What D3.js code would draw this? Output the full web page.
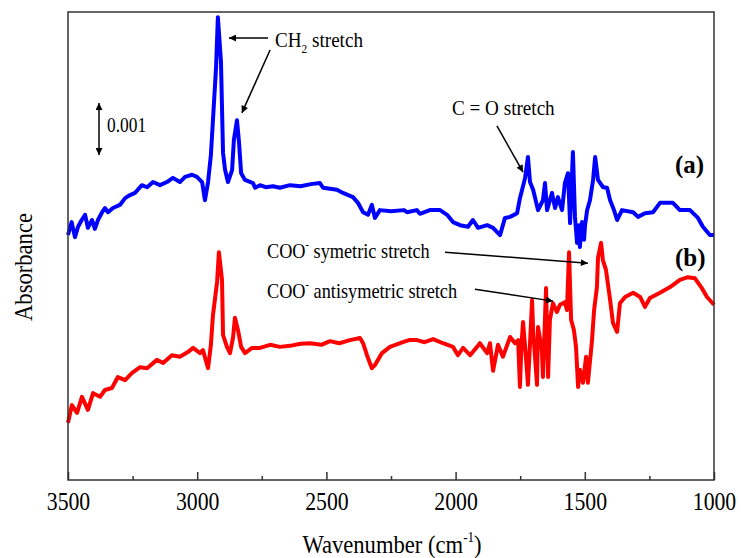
<!DOCTYPE html>
<html>
<head>
<meta charset="utf-8">
<script src="https://cdn.jsdelivr.net/npm/d3@7"></script>
<style>
  body { margin: 0; background: #fff; }
  svg { display: block; }
  text { font-family: "Liberation Serif", "Times New Roman", serif; fill: #000; }
</style>
</head>
<body>
<svg id="chart" width="741" height="558"></svg>
<script>
// spectrum (a), blue: wavenumber (cm-1) and absorbance (x 0.001, arbitrary offset)
const blueWn = [3500,3486,3473,3461,3447,3434,3423,3407,3396,3384,
  3368,3357,3345,3326,3299,3279,3260,3241,3214,3194,
  3171,3144,3117,3094,3067,3047,3020,3001,2981,2970,
  2958,2947,2939,2927,2920,2908,2900,2892,2881,2865,
  2858,2846,2838,2830,2815,2784,2776,2757,2735,2707,
  2680,2641,2600,2560,2525,2513,2459,2436,2397,2378,
  2358,2339,2324,2312,2293,2250,2200,2188,2150,2138,
  2100,2060,2033,2010,1983,1952,1933,1913,1878,1855,
  1828,1809,1789,1762,1751,1731,1720,1712,1700,1681,
  1662,1654,1646,1627,1615,1604,1588,1577,1565,1557,
  1546,1538,1530,1523,1519,1511,1503,1499,1491,1480,
  1468,1460,1449,1429,1414,1402,1387,1375,1356,1313,
  1294,1267,1236,1209,1159,1132,1093,1062,1043,1016,
  1000];
const blueAbs = [4.71,4.96,4.67,4.87,5.00,5.10,4.85,5.00,4.83,5.00,
  5.15,5.23,5.15,5.23,5.29,5.42,5.48,5.52,5.67,5.63,
  5.73,5.67,5.73,5.81,5.73,5.83,5.87,5.83,5.73,5.38,
  5.73,6.25,6.92,7.94,8.90,8.04,6.29,5.96,5.73,5.96,
  6.54,6.92,6.48,5.90,5.77,5.71,5.62,5.67,5.63,5.65,
  5.62,5.67,5.65,5.69,5.71,5.62,5.58,5.52,5.44,5.33,
  5.15,5.10,5.29,5.04,5.19,5.17,5.19,5.15,5.19,5.12,
  5.19,5.19,5.10,4.96,4.90,4.87,5.00,4.85,4.90,4.85,
  4.71,5.04,5.06,5.13,5.42,5.81,6.21,5.73,5.58,5.19,
  5.38,5.71,5.19,5.52,5.23,5.44,5.19,5.71,5.90,4.94,
  6.31,5.06,4.56,4.90,4.48,4.96,4.62,4.90,5.19,5.38,
  5.77,6.21,5.77,5.63,5.62,5.38,5.19,5.00,5.19,5.15,
  5.06,5.13,5.15,5.33,5.33,5.19,5.19,5.04,4.87,4.71,
  4.71];

// spectrum (b), red
const redWn = [3500,3485,3465,3446,3423,3403,3376,3357,3330,3307,
  3279,3252,3221,3194,3156,3132,3098,3067,3036,3016,
  2989,2978,2958,2947,2939,2923,2916,2904,2900,2885,
  2873,2861,2854,2842,2830,2815,2788,2757,2718,2680,
  2641,2600,2563,2520,2486,2450,2409,2370,2358,2343,
  2324,2312,2285,2254,2204,2180,2149,2120,2087,2049,
  2010,1991,1971,1944,1917,1906,1878,1867,1855,1836,
  1817,1789,1770,1758,1751,1745,1739,1731,1724,1720,
  1712,1704,1700,1685,1681,1666,1662,1650,1642,1635,
  1623,1608,1596,1577,1569,1561,1553,1542,1534,1526,
  1519,1507,1495,1488,1472,1464,1453,1449,1437,1430,
  1418,1402,1391,1375,1364,1344,1313,1286,1267,1248,
  1209,1170,1132,1101,1074,1047,1027,1000];
const redAbs = [1.10,1.44,1.29,1.60,1.35,1.67,1.60,1.73,1.77,1.98,
  1.92,2.06,2.17,2.15,2.31,2.25,2.40,2.37,2.46,2.54,
  2.44,2.50,2.15,2.60,3.17,3.81,4.38,3.85,2.79,2.56,
  2.44,2.75,3.12,2.88,2.56,2.44,2.54,2.54,2.60,2.56,
  2.58,2.62,2.63,2.60,2.67,2.63,2.69,2.73,2.63,2.40,
  2.15,2.21,2.44,2.56,2.65,2.69,2.69,2.65,2.71,2.63,
  2.56,2.40,2.54,2.40,2.56,2.63,2.44,2.63,2.10,2.60,
  2.37,2.75,2.63,2.69,1.79,2.60,3.04,2.56,2.12,1.83,
  2.63,3.46,2.88,1.83,2.94,2.50,1.98,3.69,1.98,3.08,
  3.40,3.23,3.37,3.42,3.27,4.38,3.08,2.88,2.56,1.79,
  2.12,1.87,2.37,1.87,2.69,3.27,3.71,4.27,4.56,4.23,
  4.04,3.46,3.02,2.85,3.40,3.52,3.60,3.52,3.33,3.50,
  3.60,3.71,3.85,3.90,3.88,3.69,3.52,3.37];

const majorTicks = [3500, 3000, 2500, 2000, 1500, 1000];
const minorTicks = [3250, 2750, 2250, 1750, 1250];

const svg = d3.select('#chart');
const squeeze = 0.87; // the original type is a bit narrow

const x = d3.scaleLinear().domain([3500, 1000]).range([68, 714]);
const y = d3.scaleLinear().domain([0, 9]).range([480, 12]);

// arrowheads
const defs = svg.append('defs');
defs.append('marker')
  .attr('id', 'head')
  .attr('viewBox', '0 0 10 10')
  .attr('refX', 10).attr('refY', 5)
  .attr('markerWidth', 9).attr('markerHeight', 7)
  .attr('markerUnits', 'userSpaceOnUse')
  .attr('orient', 'auto-start-reverse')
  .append('path')
  .attr('d', 'M0,0 L10,5 L0,10 z')
  .attr('fill', '#000');

// spectra
const line = d3.line()
  .x(d => x(d[0]))
  .y(d => y(d[1]));

svg.append('path')
  .datum(d3.zip(redWn, redAbs))
  .attr('d', line)
  .attr('fill', 'none')
  .attr('stroke', '#ff0000')
  .attr('stroke-width', 4)
  .attr('stroke-linejoin', 'round');

svg.append('path')
  .datum(d3.zip(blueWn, blueAbs))
  .attr('d', line)
  .attr('fill', 'none')
  .attr('stroke', '#0000ff')
  .attr('stroke-width', 4)
  .attr('stroke-linejoin', 'round');

// frame
svg.append('rect')
  .attr('x', x(3500)).attr('y', y(9))
  .attr('width', x(1000) - x(3500))
  .attr('height', y(0) - y(9))
  .attr('fill', 'none')
  .attr('stroke', '#333')
  .attr('stroke-width', 1.5);

// bottom axis, ticks pointing inward
const gx = svg.append('g')
  .attr('transform', `translate(0,${y(0)})`)
  .call(d3.axisBottom(x)
    .tickValues(majorTicks)
    .tickSizeInner(-8)
    .tickSizeOuter(0)
    .tickPadding(12)
    .tickFormat(d3.format('d')));
gx.select('.domain').remove();
gx.selectAll('line').attr('stroke', '#333').attr('stroke-width', 1.5);
gx.selectAll('text')
  .attr('font-family', '"Liberation Serif", serif')
  .attr('font-size', 25)
  .attr('fill', '#000')
  .attr('transform', `scale(${squeeze},1)`);

const gm = svg.append('g')
  .attr('transform', `translate(0,${y(0)})`)
  .call(d3.axisBottom(x)
    .tickValues(minorTicks)
    .tickSizeInner(-4)
    .tickSizeOuter(0)
    .tickFormat(''));
gm.select('.domain').remove();
gm.selectAll('line').attr('stroke', '#333').attr('stroke-width', 1.5);

// text helper: squeezed horizontally like the original
const label = (px, py, size, extra = '') => svg.append('g')
  .attr('transform', `translate(${px},${py}) ${extra} scale(${squeeze},1)`)
  .append('text')
  .attr('font-size', size);

// axis titles
const xt = label(392, 553, 26).attr('text-anchor', 'middle');
xt.append('tspan').text('Wavenumber (cm');
xt.append('tspan').attr('font-size', 15).attr('dy', -11).text('-1');
xt.append('tspan').attr('dy', 11).text(')');

label(32, 267, 26, 'rotate(-90)')
  .attr('text-anchor', 'middle')
  .text('Absorbance');

// annotations (positions in data space)
const arrow = (w0, a0, w1, a1, both = false) => svg.append('line')
  .attr('x1', x(w0)).attr('y1', y(a0))
  .attr('x2', x(w1)).attr('y2', y(a1))
  .attr('stroke', '#000')
  .attr('stroke-width', 1.5)
  .attr('marker-end', 'url(#head)')
  .attr('marker-start', both ? 'url(#head)' : null);

// scale bar 0.001
arrow(3380, 6.25, 3380, 7.25, true);
label(x(3349), y(6.69), 20).text('0.001');

// CH2 stretch
const ch = label(x(2699), y(8.33), 22);
ch.append('tspan').text('CH');
ch.append('tspan').attr('font-size', 13).attr('dy', 6).text('2');
ch.append('tspan').attr('dy', -6).text(' stretch');
arrow(2726, 8.50, 2877, 8.50);
arrow(2718, 8.27, 2827, 7.06);

// C = O stretch
label(x(2014), y(7.02), 22).text('C = O stretch');
arrow(1840, 6.81, 1739, 5.92);

// COO- bands
const sym = label(x(2730), y(4.27), 21);
sym.append('tspan').text('COO');
sym.append('tspan').attr('font-size', 12).attr('dy', -9).text('-');
sym.append('tspan').attr('dy', 9).text(' symetric stretch');
arrow(2041, 4.38, 1488, 4.17);

const anti = label(x(2730), y(3.50), 21);
anti.append('tspan').text('COO');
anti.append('tspan').attr('font-size', 12).attr('dy', -9).text('-');
anti.append('tspan').attr('dy', 9).text(' antisymetric stretch');
arrow(1925, 3.67, 1623, 3.44);

// spectrum labels
svg.append('text')
  .attr('x', x(1151)).attr('y', y(5.90))
  .attr('font-size', 25).attr('font-weight', 'bold')
  .text('(a)');
svg.append('text')
  .attr('x', x(1151)).attr('y', y(4.12))
  .attr('font-size', 25).attr('font-weight', 'bold')
  .text('(b)');
</script>
</body>
</html>
